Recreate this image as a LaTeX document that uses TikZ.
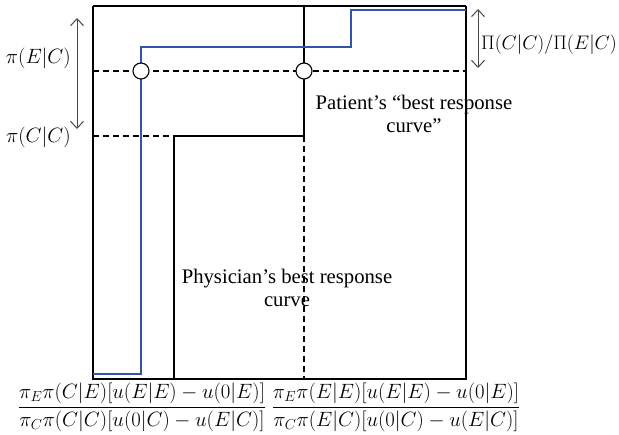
\RequirePackage{fix-cm}
\documentclass[tikz,border=0pt]{standalone}
\usepackage{fontspec}
\setmainfont{Liberation Serif}
\usetikzlibrary{arrows.meta}
\definecolor{bluecurve}{RGB}{52,84,170}
\definecolor{arrgray}{RGB}{70,70,70}
\begin{document}
\begin{tikzpicture}[x=1pt,y=-1pt,
  thinline/.style={line width=1.1pt,black},
  thickline/.style={line width=2.8pt,black},
  bluel/.style={line width=2.3pt,bluecurve},
  dashline/.style={line width=1.4pt,black,dash pattern=on 6pt off 4pt},
  dblarrow/.style={line width=1pt,arrgray,{Straight Barb[length=7pt,width=13pt]}-{Straight Barb[length=7pt,width=13pt]}},
  lbl/.style={font=\fontsize{20.7}{23}\selectfont,inner sep=0pt},
  ring/.style={circle,draw=black,fill=white,line width=1.1pt,minimum size=16pt,inner sep=0pt}
]
\useasboundingbox (0,0) rectangle (619,435);
% box edges
\draw[thinline] (93,6) -- (304,6);
\draw[thinline] (93,6) -- (93,379) -- (466,379) -- (466,6);
\draw[dashline] (93,6) -- (93,71);
\draw[dashline] (466,71) -- (466,379);
% dashed guides
\draw[dashline] (93,71) -- (466,71);
\draw[dashline] (93,136) -- (174,136);
\draw[dashline] (304,136) -- (304,379);
% physician curve
\draw[thickline] (93,379) -- (174,379) -- (174,136) -- (304,136) -- (304,6) -- (466,6);
% patient curve
\draw[bluel] (93,374) -- (141,374) -- (141,47) -- (351,47) -- (351,10) -- (466,10);
% circles
\node[ring] (c1) at (141,71) {};
\node[ring] (c2) at (304,71) {};
% arrows
\coordinate (a1) at (77,18);
\coordinate (a2) at (77,129);
\draw[dblarrow] (a1) -- (a2);
\coordinate (b1) at (478,9);
\coordinate (b2) at (478,68);
\draw[dblarrow] (b1) -- (b2);
% labels
\node[lbl,anchor=east] (pec) at (71,58) {$\pi(E|C)$};
\node[lbl,anchor=east] (pcc) at (71,137) {$\pi(C|C)$};
\node[lbl,anchor=west,font=\fontsize{19.6}{22}\selectfont] (ratio) at (481,45) {$\Pi(C|C)/\Pi(E|C)$};
\node[lbl,align=center] (pat) at (414,114) {Patient's “best response\\curve”};
\node[lbl,align=center] (phy) at (287,288) {Physician's best response\\curve};
\node[lbl] (f1) at (142,407) {$\displaystyle\frac{\pi_E\pi(C|E)[u(E|E)-u(0|E)]}{\pi_C\pi(C|C)[u(0|C)-u(E|C)]}$};
\node[lbl] (f2) at (396,407) {$\displaystyle\frac{\pi_E\pi(E|E)[u(E|E)-u(0|E)]}{\pi_C\pi(E|C)[u(0|C)-u(E|C)]}$};
\end{tikzpicture}
\end{document}
